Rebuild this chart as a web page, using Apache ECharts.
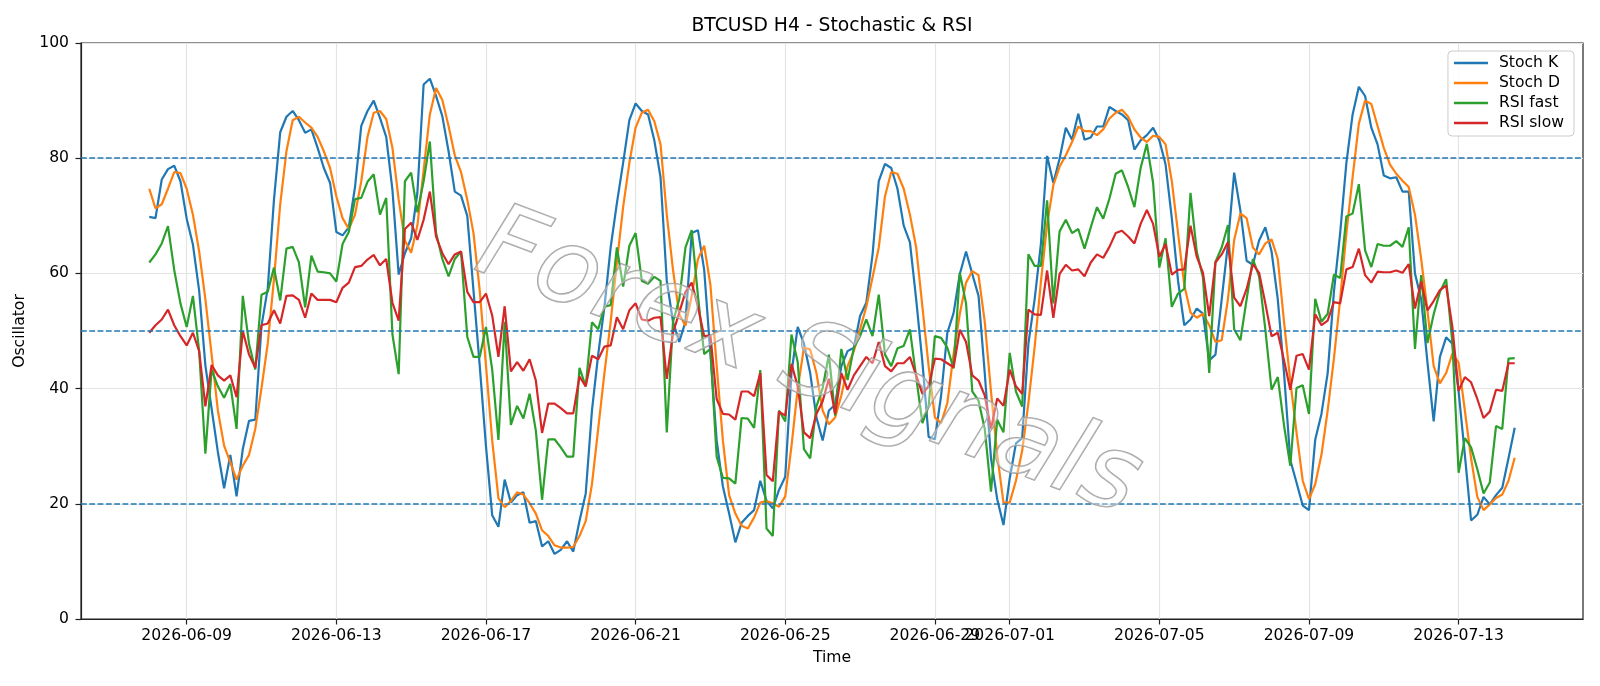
<!DOCTYPE html>
<html>
<head>
<meta charset="utf-8">
<title>BTCUSD H4 - Stochastic & RSI</title>
<script src="https://cdn.jsdelivr.net/npm/echarts@6/dist/echarts.min.js"></script>
<style>
  html, body { margin: 0; padding: 0; background: #fff; }
  #chart { width: 1600px; height: 686px; }
</style>
</head>
<body>
<div id="chart"></div>
<script>
// H4 bars, the first one at 2026-06-08 00:00 UTC
var startDate = '2026-06-08T00:00:00Z';
var barHours = 4;

// x ticks as matplotlib put them (day 1,5,9,... of each month)
var tickDates = ['2026-06-09', '2026-06-13', '2026-06-17', '2026-06-21', '2026-06-25',
                 '2026-06-29', '2026-07-01', '2026-07-05', '2026-07-09', '2026-07-13'];
var levels = [80, 50, 20];

var stochK = [
  69.8, 69.6, 76.3, 78.1, 78.7, 76.0, 69.5, 65.0, 57.0, 44.0,
  36.5, 29.0, 22.7, 28.5, 21.3, 29.5, 34.4, 34.6, 50.9, 57.4,
  72.8, 84.5, 87.2, 88.2, 86.6, 84.4, 85.0, 81.8, 78.3, 75.7,
  67.2, 66.6, 68.0, 75.0, 85.6, 88.2, 90.0, 87.0, 83.7, 74.5,
  59.8, 63.5, 66.1, 74.0, 92.8, 93.8, 90.8, 87.3, 81.2, 74.2,
  73.5, 70.0, 57.0, 44.0, 30.0, 18.0, 16.0, 24.2, 20.2, 21.5,
  22.0, 16.7, 17.0, 12.6, 13.5, 11.3, 12.0, 13.5, 11.7, 17.0,
  21.8, 36.2, 45.9, 54.2, 64.5, 72.2, 79.2, 86.6, 89.5, 88.2,
  87.6, 83.1, 76.7, 58.7, 51.6, 48.1, 51.6, 67.0, 67.5, 60.6,
  46.0, 31.0, 23.0, 18.3, 13.3, 16.7, 17.9, 18.9, 24.0, 20.5,
  19.2, 22.4, 24.7, 42.7, 50.7, 47.8, 42.7, 35.0, 31.0, 36.2,
  37.2, 43.9, 46.5, 47.1, 52.6, 54.9, 63.2, 76.0, 79.0, 78.3,
  74.7, 68.3, 65.4, 55.5, 44.6, 31.6, 31.2, 38.8, 49.7, 53.1,
  59.9, 63.8, 59.9, 56.1, 42.7, 27.9, 20.8, 16.3, 24.4, 30.5,
  31.4, 47.8, 55.5, 65.1, 80.4, 75.7, 79.9, 85.3, 83.2, 87.7,
  83.2, 83.6, 85.5, 85.5, 88.9, 88.2, 87.6, 86.6, 81.5, 83.1,
  84.0, 85.3, 83.1, 78.9, 69.6, 58.7, 51.0, 52.0, 53.9, 53.0,
  44.9, 45.9, 55.5, 65.1, 77.5, 70.9, 62.2, 61.5, 65.7, 68.0,
  63.8, 55.5, 42.7, 27.6, 23.7, 19.7, 18.9, 31.1, 35.6, 42.7,
  56.8, 67.0, 79.2, 87.6, 92.4, 90.8, 85.3, 82.4, 77.0, 76.5,
  76.7, 74.2, 74.2, 60.0, 55.5, 44.6, 34.3, 45.5, 48.9, 47.8,
  39.5, 28.5, 17.1, 18.1, 21.2, 19.9, 21.5, 22.8, 27.9, 33.2
];

var stochD = [
  74.7, 71.3, 72.0, 74.7, 77.6, 77.4, 74.7, 70.2, 63.8, 55.5,
  45.9, 36.2, 30.1, 27.2, 24.2, 26.6, 28.5, 33.0, 40.1, 47.8,
  59.0, 72.0, 81.2, 86.6, 87.2, 86.2, 85.3, 83.7, 81.2, 78.3,
  73.4, 69.6, 67.7, 70.2, 76.0, 83.7, 87.9, 88.2, 86.8, 81.8,
  72.8, 65.7, 63.6, 68.3, 77.9, 87.6, 92.2, 90.1, 85.6, 80.5,
  77.6, 72.8, 67.0, 57.0, 44.0, 31.0, 21.0, 19.4, 20.5, 22.0,
  21.6, 20.1, 18.3, 15.4, 14.4, 12.8, 12.4, 12.4, 12.5, 14.4,
  17.0, 23.4, 33.0, 42.7, 51.6, 61.9, 71.5, 79.2, 85.3, 87.9,
  88.4, 86.4, 82.4, 70.2, 60.6, 52.9, 50.9, 56.1, 62.5, 64.8,
  58.0, 44.0, 31.0, 21.5, 18.3, 16.2, 15.7, 17.6, 20.2, 20.5,
  20.1, 19.5, 21.3, 30.0, 40.0, 47.1, 46.8, 42.7, 36.2, 33.8,
  35.0, 38.8, 43.9, 46.5, 50.3, 54.2, 59.3, 64.5, 73.4, 77.6,
  77.3, 74.7, 70.2, 64.5, 54.2, 43.9, 35.0, 34.0, 37.5, 46.0,
  53.0, 58.4, 60.4, 59.7, 51.6, 39.5, 28.5, 20.2, 20.2, 24.0,
  29.2, 37.5, 47.2, 58.5, 68.5, 75.3, 78.5, 80.5, 82.8, 85.5,
  84.7, 84.7, 84.0, 85.0, 86.9, 87.9, 88.4, 87.2, 85.0, 83.6,
  82.8, 83.9, 83.7, 82.4, 76.0, 67.0, 58.0, 53.2, 52.3, 53.0,
  51.0, 48.1, 48.4, 55.5, 65.8, 70.4, 69.6, 64.5, 63.3, 65.2,
  65.9, 62.5, 51.6, 41.4, 32.4, 24.0, 20.8, 23.4, 28.5, 36.2,
  45.2, 55.5, 67.0, 76.7, 86.0, 90.0, 89.4, 85.6, 81.8, 78.9,
  77.3, 76.1, 75.0, 70.2, 62.5, 53.6, 43.9, 40.9, 42.7, 46.1,
  44.5, 36.2, 27.9, 21.2, 18.9, 19.9, 21.0, 21.6, 24.0, 28.0
];

var rsiFast = [
  61.9, 63.3, 65.2, 68.2, 60.6, 54.8, 50.7, 56.1, 46.5, 28.7,
  43.3, 40.4, 38.4, 40.8, 33.0, 56.1, 47.8, 43.3, 56.3, 56.8,
  61.0, 55.3, 64.3, 64.6, 61.9, 54.1, 63.1, 60.3, 60.2, 60.0,
  58.6, 65.1, 67.2, 72.9, 73.1, 75.9, 77.2, 70.2, 73.1, 49.4,
  42.5, 76.0, 77.5, 70.6, 76.0, 82.9, 67.0, 62.5, 59.5, 62.5,
  63.8, 49.0, 45.5, 45.5, 50.7, 43.3, 31.1, 51.6, 33.7, 37.0,
  34.8, 39.1, 32.7, 20.7, 31.2, 31.2, 29.8, 28.2, 28.2, 43.6,
  40.4, 51.5, 50.3, 54.2, 54.5, 64.5, 57.7, 64.8, 67.0, 58.7,
  58.2, 59.4, 58.7, 32.4, 51.6, 55.5, 64.5, 67.5, 56.1, 46.0,
  46.9, 28.2, 24.5, 24.4, 23.5, 34.9, 34.8, 33.2, 43.2, 15.7,
  14.4, 36.2, 34.3, 49.4, 44.6, 29.5, 27.9, 36.9, 40.1, 45.9,
  35.3, 46.9, 41.5, 47.1, 49.1, 52.0, 49.1, 56.3, 45.9, 43.9,
  47.0, 47.4, 50.3, 42.0, 34.0, 37.0, 49.1, 48.8, 47.1, 43.5,
  60.1, 54.8, 39.5, 37.9, 33.0, 22.1, 34.6, 32.4, 46.2, 39.5,
  36.9, 63.3, 61.3, 61.3, 72.7, 54.8, 67.3, 69.3, 67.0, 67.7,
  64.3, 68.0, 71.5, 69.5, 73.0, 77.3, 77.9, 75.0, 71.5, 78.3,
  82.5, 75.7, 61.0, 66.1, 54.2, 56.5, 57.3, 74.0, 63.8, 59.3,
  42.7, 62.0, 64.5, 68.4, 50.3, 48.4, 55.5, 62.5, 59.5, 50.3,
  39.8, 42.0, 33.6, 26.6, 40.1, 40.6, 35.6, 55.6, 51.6, 53.0,
  59.8, 59.2, 69.9, 70.4, 75.5, 64.0, 61.1, 65.1, 64.8, 64.8,
  65.6, 64.6, 68.0, 46.9, 59.7, 47.9, 52.9, 56.8, 59.0, 48.0,
  25.4, 31.4, 29.8, 26.0, 21.8, 23.7, 33.5, 33.0, 45.2, 45.3
];

var rsiSlow = [
  49.7, 51.0, 52.0, 53.7, 51.0, 49.1, 47.5, 49.7, 46.5, 36.9,
  44.1, 42.3, 41.4, 42.3, 38.5, 50.0, 45.9, 43.6, 51.0, 51.3,
  53.6, 51.3, 56.1, 56.2, 55.4, 52.3, 56.5, 55.4, 55.4, 55.4,
  55.0, 57.5, 58.4, 61.1, 61.3, 62.4, 63.2, 61.4, 62.5, 54.9,
  51.8, 67.7, 68.8, 65.8, 69.3, 74.2, 66.4, 63.5, 61.6, 63.3,
  63.8, 56.8, 55.0, 55.0, 56.5, 52.7, 45.5, 54.3, 43.0, 44.6,
  43.1, 45.1, 41.4, 32.3, 37.4, 37.4, 36.6, 35.7, 35.7, 42.1,
  40.4, 45.7, 45.1, 47.3, 47.5, 52.4, 50.3, 53.6, 54.8, 52.0,
  51.8, 52.3, 52.4, 41.7, 49.7, 53.2, 56.8, 58.4, 54.2, 49.1,
  49.2, 38.2, 35.6, 35.5, 34.6, 39.5, 39.5, 38.7, 42.7, 25.0,
  23.9, 36.0, 35.3, 44.3, 40.4, 32.4, 31.4, 35.6, 37.8, 41.7,
  35.6, 42.7, 39.8, 42.3, 43.9, 45.5, 44.4, 48.1, 43.9, 43.0,
  44.4, 44.4, 45.5, 42.3, 39.1, 40.4, 45.2, 45.1, 44.4, 43.7,
  50.2, 48.1, 42.3, 41.4, 38.8, 33.0, 38.3, 37.0, 43.3, 40.4,
  39.1, 53.7, 52.9, 52.8, 60.5, 52.3, 59.9, 61.5, 60.5, 60.7,
  59.5, 61.9, 63.3, 62.7, 64.6, 67.0, 67.4, 66.4, 65.2, 68.6,
  71.0, 68.6, 62.9, 65.1, 59.8, 60.6, 60.7, 68.3, 62.9, 60.1,
  52.6, 61.9, 63.3, 65.4, 55.8, 54.3, 57.3, 61.6, 60.1, 54.8,
  49.1, 49.7, 44.9, 39.8, 45.7, 46.0, 43.3, 52.9, 51.0, 51.8,
  55.0, 54.8, 60.7, 61.1, 64.3, 59.7, 58.4, 60.3, 60.2, 60.2,
  60.5, 60.1, 61.6, 53.9, 58.6, 53.6, 55.2, 57.1, 57.9, 50.7,
  39.6, 42.0, 41.1, 38.2, 34.9, 36.0, 39.8, 39.6, 44.4, 44.4
];

var font = 'DejaVu Sans';
var t0 = Date.parse(startDate);
var step = barHours * 3600 * 1000;
var times = stochK.map(function (v, i) { return t0 + i * step; });
var t1 = times[times.length - 1];
var pad = (t1 - t0) * 0.05;   // matplotlib default x margin
var tickValues = tickDates.map(function (d) { return Date.parse(d); });

function pairs(arr) {
  return arr.map(function (v, i) { return [times[i], v]; });
}

function lineSeries(name, arr, color, extra) {
  var s = {
    name: name,
    type: 'line',
    data: pairs(arr),
    symbol: 'none',
    color: color,
    lineStyle: { color: color, width: 2.2 },
    emphasis: { disabled: true }
  };
  if (extra) s.markLine = extra;
  return s;
}

var myChart = echarts.init(document.getElementById('chart'));

var option = {
  animation: false,
  backgroundColor: '#fff',
  textStyle: { fontFamily: font },
  grid: {
    left: 81, right: 17, top: 43, bottom: 67,
    show: true, borderColor: '#222', borderWidth: 1.2,
    outerBoundsMode: 'none'
  },
  legend: {
    orient: 'vertical',
    right: 26,
    top: 51,
    padding: [4, 10, 5, 6],
    itemGap: 4,
    icon: 'rect',
    itemWidth: 34,
    itemHeight: 2.3,
    backgroundColor: 'rgba(255,255,255,0.85)',
    borderColor: '#cccccc',
    borderWidth: 1,
    borderRadius: 4,
    textStyle: { fontFamily: font, fontSize: 15.6, color: '#000', padding: [0, 0, 0, 6] },
    data: ['Stoch K', 'Stoch D', 'RSI fast', 'RSI slow']
  },
  xAxis: {
    type: 'value',
    min: t0 - pad,
    max: t1 + pad,
    name: 'Time',
    nameLocation: 'middle',
    nameGap: 31,
    nameTextStyle: { fontFamily: font, fontSize: 15.6, color: '#000' },
    axisLine: { lineStyle: { color: '#222', width: 1.2 } },
    axisTick: { show: true, length: 5.5, lineStyle: { color: '#222', width: 1.2 },
                customValues: tickValues },
    axisLabel: {
      customValues: tickValues,
      fontFamily: font, fontSize: 15.6, color: '#000', margin: 9,
      formatter: function (v) { return new Date(v).toISOString().slice(0, 10); }
    },
    splitLine: { show: true, lineStyle: { color: '#e4e4e4', width: 1.2 } }
  },
  yAxis: {
    type: 'value',
    min: 0,
    max: 100,
    interval: 20,
    name: 'Oscillator',
    nameLocation: 'middle',
    nameGap: 48,
    nameTextStyle: { fontFamily: font, fontSize: 15.6, color: '#000' },
    axisLine: { show: true, lineStyle: { color: '#222', width: 1.2 } },
    axisTick: { show: true, length: 5.5, lineStyle: { color: '#222', width: 1.2 } },
    axisLabel: { fontFamily: font, fontSize: 15.6, color: '#000', margin: 12 },
    splitLine: { show: true, lineStyle: { color: '#e4e4e4', width: 1.2 } }
  },
  series: [
    lineSeries('Stoch K', stochK, '#1f77b4', {
      silent: true,
      symbol: 'none',
      label: { show: false },
      lineStyle: { color: '#1f77b4', width: 1.5, type: [5.8, 2.5] },
      data: levels.map(function (y) { return { yAxis: y }; })
    }),
    lineSeries('Stoch D', stochD, '#ff7f0e'),
    lineSeries('RSI fast', rsiFast, '#2ca02c'),
    lineSeries('RSI slow', rsiSlow, '#d62728')
  ],
  graphic: [
    {
      type: 'text',
      x: 832, y: 26.5,
      style: {
        text: 'BTCUSD H4 - Stochastic & RSI',
        font: '18.75px "DejaVu Sans"',
        fill: '#000',
        textAlign: 'center',
        textVerticalAlign: 'middle'
      }
    },
    {
      // watermark
      type: 'text',
      x: 808, y: 366,
      rotation: -0.36,
      z: 100,
      silent: true,
      style: {
        text: 'Forex Signals',
        font: 'italic 104px "DejaVu Sans"',
        fill: 'rgba(255,255,255,0.35)',
        stroke: 'rgba(150,150,150,0.9)',
        lineWidth: 1.6,
        textAlign: 'center',
        textVerticalAlign: 'middle',
        shadowColor: 'rgba(0,0,0,0.45)',
        shadowBlur: 2,
        shadowOffsetX: 4,
        shadowOffsetY: 5
      }
    }
  ]
};

myChart.setOption(option);
window.addEventListener('resize', function () {
  myChart.resize();
});
</script>
</body>
</html>
